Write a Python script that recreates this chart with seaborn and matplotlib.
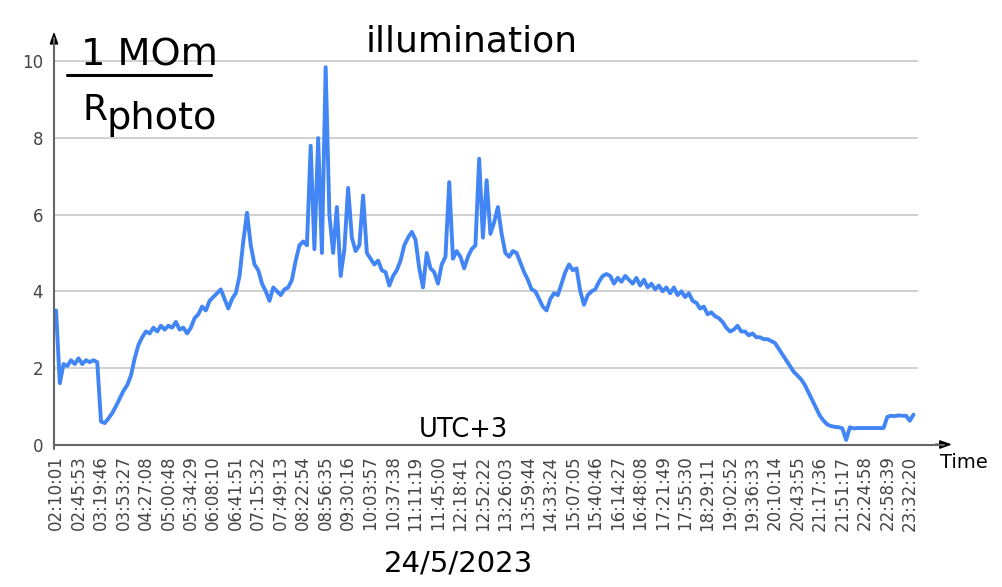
import matplotlib
matplotlib.use("Agg")
import matplotlib.pyplot as plt
from matplotlib.lines import Line2D
import numpy as np
import pandas as pd
import seaborn as sns

# time labels shown under the axis (every 6th sample)
tick_labels = [
    "02:10:01", "02:45:53", "03:19:46", "03:53:27", "04:27:08", "05:00:48",
    "05:34:29", "06:08:10", "06:41:51", "07:15:32", "07:49:13", "08:22:54",
    "08:56:35", "09:30:16", "10:03:57", "10:37:38", "11:11:19", "11:45:00",
    "12:18:41", "12:52:22", "13:26:03", "13:59:44", "14:33:24", "15:07:05",
    "15:40:46", "16:14:27", "16:48:08", "17:21:49", "17:55:30", "18:29:11",
    "19:02:52", "19:36:33", "20:10:14", "20:43:55", "21:17:36", "21:51:17",
    "22:24:58", "22:58:39", "23:32:20",
]
samples_per_tick = 6

# 1 MOm / R_photo
illumination = [
    3.5, 1.6, 2.1, 2.05, 2.2, 2.1,
    2.25, 2.1, 2.2, 2.15, 2.2, 2.15,
    0.6, 0.56, 0.68, 0.82, 1.0, 1.2,
    1.4, 1.55, 1.8, 2.25, 2.6, 2.8,
    2.95, 2.9, 3.05, 2.95, 3.1, 3.0,
    3.1, 3.05, 3.2, 3.0, 3.05, 2.9,
    3.05, 3.3, 3.4, 3.6, 3.5, 3.75,
    3.85, 3.95, 4.05, 3.8, 3.55, 3.8,
    3.95, 4.4, 5.3, 6.05, 5.2, 4.7,
    4.55, 4.2, 4.0, 3.75, 4.1, 4.0,
    3.9, 4.05, 4.1, 4.3, 4.8, 5.2,
    5.3, 5.2, 7.8, 5.1, 8.0, 5.0,
    9.85, 6.0, 5.0, 6.2, 4.4, 5.1,
    6.7, 5.4, 5.05, 5.2, 6.5, 5.0,
    4.85, 4.7, 4.8, 4.55, 4.5, 4.15,
    4.4, 4.55, 4.8, 5.2, 5.4, 5.55,
    5.35, 4.6, 4.1, 5.0, 4.6, 4.5,
    4.2, 4.7, 4.9, 6.85, 4.85, 5.05,
    4.9, 4.6, 4.9, 5.1, 5.2, 7.46,
    5.4, 6.9, 5.5, 5.8, 6.2, 5.5,
    5.0, 4.9, 5.05, 5.0, 4.75, 4.5,
    4.3, 4.05, 4.0, 3.8, 3.6, 3.5,
    3.8, 3.95, 3.9, 4.2, 4.5, 4.7,
    4.55, 4.6, 4.0, 3.65, 3.9, 4.0,
    4.05, 4.25, 4.4, 4.45, 4.4, 4.2,
    4.35, 4.25, 4.4, 4.3, 4.2, 4.35,
    4.15, 4.3, 4.1, 4.2, 4.05, 4.15,
    4.0, 4.1, 3.95, 4.1, 3.9, 4.0,
    3.85, 3.95, 3.75, 3.7, 3.55, 3.6,
    3.4, 3.45, 3.35, 3.3, 3.2, 3.05,
    2.95, 3.0, 3.1, 2.95, 2.95, 2.85,
    2.9, 2.8, 2.8, 2.75, 2.75, 2.7,
    2.65, 2.5, 2.35, 2.2, 2.05, 1.9,
    1.8, 1.7, 1.55, 1.35, 1.15, 0.95,
    0.75, 0.62, 0.52, 0.48, 0.46, 0.45,
    0.42, 0.12, 0.45, 0.42, 0.43, 0.43,
    0.43, 0.43, 0.43, 0.43, 0.43, 0.43,
    0.72, 0.75, 0.74, 0.76, 0.75, 0.75,
    0.62, 0.78,
]

sns.set_style("white")
plt.rcParams['font.family'] = ['DejaVu Sans']

df = pd.DataFrame({'sample': np.arange(len(illumination)), 'value': illumination})

W, H = 1002, 587
fig = plt.figure(figsize=(W / 100, H / 100), dpi=100)
ax = fig.add_axes([54 / W, (H - 444.5) / H, 864 / W, 412.9 / H])

sns.lineplot(data=df, x='sample', y='value', ax=ax, color='#4285F4', lw=2.8, zorder=3)

ax.set_xlim(-0.55, 230.2)
ax.set_ylim(0, 10.78)
ax.set_yticks(range(0, 11, 2))
ax.set_xticks(np.arange(len(tick_labels)) * samples_per_tick)
ax.set_xticklabels(tick_labels, rotation=90, fontsize=12, color='#444444')
ax.tick_params(axis='x', length=0, pad=8)
ax.tick_params(axis='y', length=0, pad=8, labelsize=12, labelcolor='#444444')
ax.grid(axis='y', color='#d0d0d0', lw=1.4)
ax.grid(axis='x', visible=False)
ax.set_axisbelow(True)
for s in ax.spines.values():
    s.set_visible(False)
ax.set_xlabel('')
ax.set_ylabel('')

# axes with arrow heads
ax.plot([0, 0], [-0.01, 0.985], transform=ax.transAxes, color='#666666', lw=1.5, clip_on=False, zorder=4)
ax.plot([0, 1.03], [0, 0], transform=ax.transAxes, color='#666666', lw=1.5, clip_on=False, zorder=4)
arrow = dict(arrowstyle='-|>,head_length=0.7,head_width=0.25', color='black', lw=1.2,
             shrinkA=0, shrinkB=0)
ax.annotate('', xy=(0, 1.0), xytext=(0, 0.97), xycoords='axes fraction', arrowprops=arrow)
ax.annotate('', xy=(1.0394, 0), xytext=(1.02, 0), xycoords='axes fraction', arrowprops=arrow)

# texts
fig.text(472 / W, (H - 52) / H, 'illumination', fontsize=26, ha='center', va='baseline', color='black')
fig.text(81 / W, (H - 65) / H, '1 MOm', fontsize=27.5, ha='left', va='baseline', color='black')
fig.add_artist(Line2D([67 / W, 211 / W], [(H - 75) / H] * 2, color='black', lw=2.2))
fig.text(82 / W, (H - 120) / H, 'R', fontsize=26, ha='left', va='baseline', color='black')
fig.text(107 / W, (H - 129) / H, 'photo', fontsize=27.5, ha='left', va='baseline', color='black')
fig.text(463 / W, (H - 437) / H, 'UTC+3', fontsize=18.5, ha='center', va='baseline', color='black')
fig.text(940 / W, (H - 468) / H, 'Time', fontsize=14, ha='left', va='baseline', color='black')
fig.text(458 / W, (H - 572) / H, '24/5/2023', fontsize=21, ha='center', va='baseline', color='black')

fig.savefig('out.png', dpi=100)
